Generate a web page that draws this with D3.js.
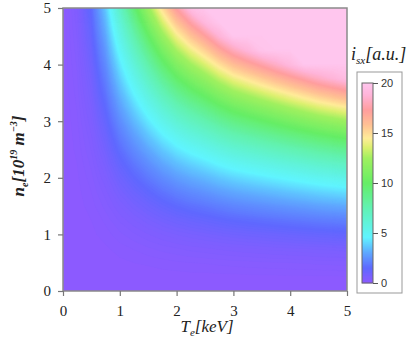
<!DOCTYPE html>
<html><head><meta charset="utf-8">
<script src="https://cdn.jsdelivr.net/npm/d3@7"></script>
<style>body{margin:0;background:#fff}svg{display:block}</style>
</head><body><svg id="c" width="410" height="340"></svg>
<script>
// electron temperature grid [keV]
const temps = [0,0.25,0.5,0.75,1,1.25,1.5,1.75,2,2.25,2.5,2.75,3,3.25,3.5,3.75,4,4.25,4.5,4.75,5];
// electron density grid [10^19 m^-3]
const densities = [0,0.25,0.5,0.75,1,1.25,1.5,1.75,2,2.25,2.5,2.75,3,3.25,3.5,3.75,4,4.25,4.5,4.75,5];
// soft x-ray intensity i_sx [a.u.], one row per density (bottom to top), clipped at 20
const intensity = [
[0,0,0,0,0,0,0,0,0,0,0,0,0,0,0,0,0,0,0,0,0],
[0,0,0,0.01,0.02,0.02,0.03,0.04,0.04,0.05,0.05,0.06,0.06,0.07,0.07,0.07,0.08,0.08,0.08,0.08,0.09],
[0,0.01,0.02,0.04,0.07,0.1,0.12,0.15,0.18,0.2,0.21,0.23,0.25,0.26,0.28,0.29,0.3,0.31,0.33,0.34,0.35],
[0,0.01,0.04,0.08,0.15,0.21,0.28,0.34,0.39,0.44,0.48,0.52,0.56,0.59,0.62,0.65,0.68,0.7,0.73,0.75,0.78],
[0,0.02,0.07,0.15,0.27,0.38,0.49,0.6,0.7,0.78,0.85,0.93,1,1.05,1.1,1.15,1.2,1.25,1.3,1.34,1.38],
[0,0.03,0.1,0.23,0.42,0.59,0.77,0.94,1.09,1.22,1.33,1.45,1.56,1.64,1.72,1.8,1.88,1.95,2.03,2.09,2.16],
[0,0.05,0.15,0.34,0.61,0.86,1.1,1.35,1.58,1.76,1.91,2.09,2.25,2.36,2.48,2.59,2.7,2.81,2.93,3.02,3.11],
[0,0.06,0.2,0.46,0.83,1.16,1.5,1.84,2.14,2.39,2.6,2.85,3.06,3.22,3.37,3.52,3.68,3.83,3.98,4.1,4.23],
[0,0.08,0.26,0.6,1.08,1.52,1.96,2.4,2.8,3.12,3.4,3.72,4,4.2,4.4,4.6,4.8,5,5.2,5.36,5.52],
[0,0.1,0.33,0.76,1.37,1.92,2.48,3.04,3.54,3.95,4.3,4.71,5.06,5.32,5.57,5.82,6.08,6.33,6.58,6.78,6.99],
[0,0.13,0.41,0.94,1.69,2.38,3.06,3.75,4.38,4.88,5.31,5.81,6.25,6.56,6.88,7.19,7.5,7.81,8.13,8.38,8.63],
[0,0.15,0.49,1.13,2.04,2.87,3.71,4.54,5.29,5.9,6.43,7.03,7.56,7.94,8.32,8.7,9.08,9.45,9.83,10.13,10.44],
[0,0.18,0.59,1.35,2.43,3.42,4.41,5.4,6.3,7.02,7.65,8.37,9,9.45,9.9,10.35,10.8,11.25,11.7,12.06,12.42],
[0,0.21,0.69,1.58,2.85,4.01,5.18,6.34,7.39,8.24,8.98,9.82,10.56,11.09,11.62,12.15,12.68,13.2,13.73,14.15,14.58],
[0,0.25,0.8,1.84,3.31,4.66,6,7.35,8.58,9.56,10.41,11.39,12.25,12.86,13.48,14.09,14.7,15.31,15.93,16.42,16.91],
[0,0.28,0.91,2.11,3.8,5.34,6.89,8.44,9.84,10.97,11.95,13.08,14.06,14.77,15.47,16.17,16.88,17.58,18.28,18.84,19.41],
[0,0.32,1.04,2.4,4.32,6.08,7.84,9.6,11.2,12.48,13.6,14.88,16,16.8,17.6,18.4,19.2,20,20,20,20],
[0,0.36,1.17,2.71,4.88,6.86,8.85,10.84,12.64,14.09,15.35,16.8,18.06,18.97,19.87,20,20,20,20,20,20],
[0,0.41,1.32,3.04,5.47,7.7,9.92,12.15,14.18,15.8,17.21,18.83,20,20,20,20,20,20,20,20,20],
[0,0.45,1.47,3.38,6.09,8.57,11.06,13.54,15.79,17.6,19.18,20,20,20,20,20,20,20,20,20,20],
[0,0.5,1.63,3.75,6.75,9.5,12.25,15,17.5,19.5,20,20,20,20,20,20,20,20,20,20,20]
];
const xTicks = [0,1,2,3,4,5];
const yTicks = [0,1,2,3,4,5];
const barTicks = [0,5,10,15,20];

// colour map
const stopVals = [0,0.7,1.5,3,4.6,7.5,10,12.5,13.6,14.5,15.8,17.3,18.8,20];
const stopCols = ["#8c5aff","#7a60ff","#5f68ff","#5fa6ff","#60f4ff","#62f2b4","#66ee66","#a0f060","#dcf070","#ffec98","#ffc294","#ff9e9e","#ffb4d8","#ffc6ee"];
const color = d3.scaleLinear().domain(stopVals).range(stopCols).interpolate(d3.interpolateRgb).clamp(true);

const svg = d3.select("#c");
const serif = "'Liberation Serif', 'Times New Roman', Times, serif";
const x = d3.scaleLinear().domain([0,5]).range([63,347]);
const y = d3.scaleLinear().domain([0,5]).range([291,8]);

svg.append("clipPath").attr("id","pc").append("rect")
  .attr("x",x(0)).attr("y",y(5)).attr("width",x(5)-x(0)).attr("height",y(0)-y(5));

const dx = temps.length, dy = densities.length;
const flat = intensity.flat();
const thresholds = d3.range(0, 20.001, 0.1);
const cont = d3.contours().size([dx,dy]).thresholds(thresholds)(flat);
const gx = d3.scaleLinear().domain([0.5, dx-0.5]).range([x(temps[0]), x(temps[dx-1])]);
const gy = d3.scaleLinear().domain([0.5, dy-0.5]).range([y(densities[0]), y(densities[dy-1])]);
const path = d3.geoPath(d3.geoTransform({point(px,py){ this.stream.point(gx(px), gy(py)); }}));

svg.append("g").attr("clip-path","url(#pc)")
  .selectAll("path").data(cont).join("path")
  .attr("d", path)
  .attr("fill", d => color(d.value))
  .attr("stroke", d => color(d.value)).attr("stroke-width",0.4);

// frame
svg.append("rect").attr("x",x(0)).attr("y",y(5)).attr("width",x(5)-x(0)).attr("height",y(0)-y(5))
  .attr("fill","none").attr("stroke","#8a8a8a").attr("stroke-width",1.5);

// axes
const xAxis = svg.append("g").attr("transform",`translate(0,${y(0)})`)
  .call(d3.axisBottom(x).tickValues(xTicks).tickSize(5).tickPadding(9).tickFormat(d3.format("d")));
const yAxis = svg.append("g").attr("transform",`translate(${x(0)},0)`)
  .call(d3.axisLeft(y).tickValues(yTicks).tickSize(5).tickPadding(7).tickFormat(d3.format("d")));
[xAxis,yAxis].forEach(a=>{
  a.attr("font-family",serif).attr("font-size",15);
  a.select(".domain").remove();
  a.selectAll("line").attr("stroke","#777").attr("stroke-width",1.2);
  a.selectAll("text").style("font-family",serif).style("font-size","15px").attr("fill","#222");
});

// axis titles
const xt = svg.append("text").attr("x",207).attr("y",332).attr("text-anchor","middle")
  .style("font-family",serif).style("font-size","17px").style("font-style","italic").attr("fill","#222");
xt.append("tspan").text("T");
xt.append("tspan").style("font-size","11px").attr("dy",4).text("e");
xt.append("tspan").attr("dy",-4).text("[keV]");

const yt = svg.append("text").attr("transform","translate(24,156) rotate(-90)").attr("text-anchor","middle")
  .style("font-family",serif).style("font-size","17px").style("font-style","italic").style("font-weight","bold").attr("fill","#222");
yt.append("tspan").text("n");
yt.append("tspan").style("font-size","10px").attr("dy",4).text("e");
yt.append("tspan").attr("dy",-4).text("[10");
yt.append("tspan").style("font-size","10px").attr("dy",-7).text("19");
yt.append("tspan").attr("dy",7).text(" m");
yt.append("tspan").style("font-size","10px").attr("dy",-7).text("−3");
yt.append("tspan").attr("dy",7).text("]");

// colour bar
const cb = d3.scaleLinear().domain([0,20]).range([283,83]);
svg.append("rect").attr("x",357).attr("y",72).attr("width",45).attr("height",221)
  .attr("fill","#fff").attr("stroke","#999").attr("stroke-width",1);
const barVals = d3.range(0, 20, 0.1);
svg.append("g").selectAll("rect").data(barVals).join("rect")
  .attr("x",362).attr("width",11)
  .attr("y", d => cb(d+0.1)).attr("height", d => cb(d)-cb(d+0.1)+0.3)
  .attr("fill", d => color(d+0.05));
svg.append("rect").attr("x",362).attr("y",cb(20)).attr("width",11).attr("height",cb(0)-cb(20))
  .attr("fill","none").attr("stroke","#666").attr("stroke-width",1);
const cbAxis = svg.append("g").attr("transform","translate(373,0)")
  .call(d3.axisRight(cb).tickValues(barTicks).tickSize(5).tickPadding(3));
cbAxis.select(".domain").remove();
cbAxis.selectAll("line").attr("stroke","#555");
cbAxis.selectAll("text").style("font-family","'Liberation Sans', Arial, sans-serif").style("font-size","11px").attr("fill","#333");

const ct = svg.append("text").attr("x",351).attr("y",60)
  .style("font-family",serif).style("font-size","18px").style("font-style","italic").attr("fill","#222");
ct.append("tspan").text("i");
ct.append("tspan").style("font-size","11px").attr("dy",4).text("sx");
ct.append("tspan").attr("dy",-4).text("[a.u.]");
</script></body></html>
